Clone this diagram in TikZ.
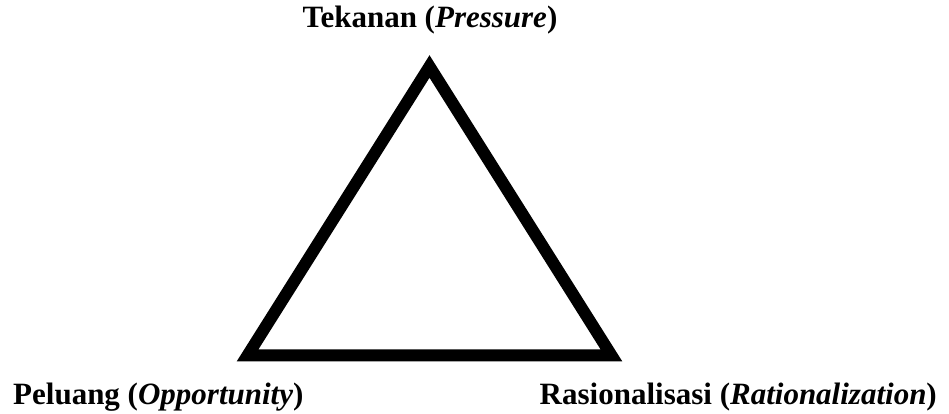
\documentclass[tikz,border=0pt]{standalone}
\usepackage{fontspec}
\setmainfont{Liberation Serif}
\usetikzlibrary{positioning}

\begin{document}
\begin{tikzpicture}[x=1pt, y=1pt,
    corner/.style={font=\fontsize{31}{36}\selectfont\bfseries, inner sep=0pt},
    side/.style={line width=12pt, line join=miter}]
    \useasboundingbox (0,0) rectangle (949,414);
    % vertices of the triangle
    \coordinate (apex) at (429.5,347.5);
    \coordinate (bl) at (247.5,58.5);
    \coordinate (br) at (611.5,58.5);
    \draw[side] (apex) -- (bl) -- (br) -- cycle;
    % labels
    \node[corner, anchor=base] (press) at (430,386) {Tekanan (\textit{Pressure})};
    \node[corner, anchor=base west] (opp) at (13,9) {Peluang (\textit{Opportunity})};
    \node[corner, anchor=base east] (rat) at (937,9) {Rasionalisasi (\textit{Rationalization})};
  \end{tikzpicture}
\end{document}
